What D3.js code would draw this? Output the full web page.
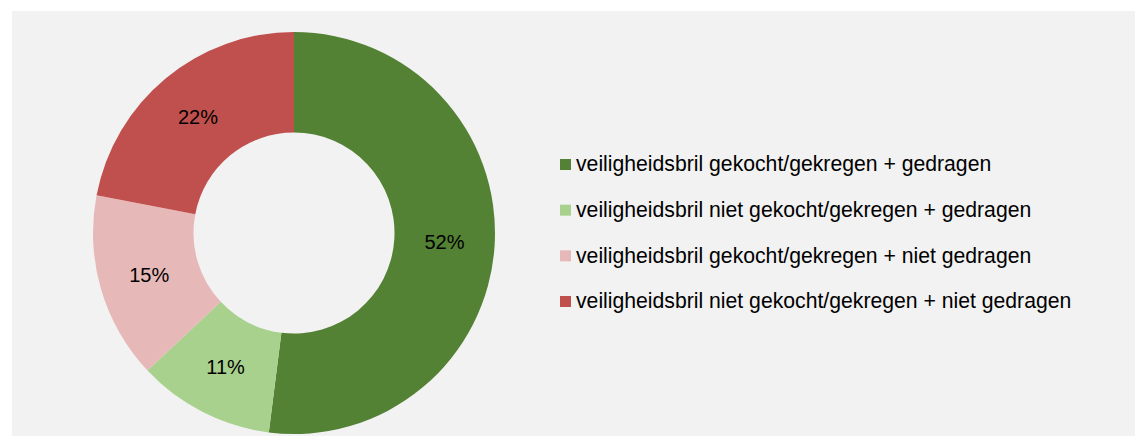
<!DOCTYPE html>
<html>
<head>
<meta charset="utf-8">
<script src="https://cdn.jsdelivr.net/npm/d3@7"></script>
<style>
  body { margin: 0; background: #ffffff; }
  svg { display: block; font-family: "Liberation Sans", Arial, sans-serif; }
</style>
</head>
<body>
<div id="chart"></div>
<script>
// chart data
const categories = [
    "veiligheidsbril gekocht/gekregen + gedragen",
    "veiligheidsbril niet gekocht/gekregen + gedragen",
    "veiligheidsbril gekocht/gekregen + niet gedragen",
    "veiligheidsbril niet gekocht/gekregen + niet gedragen"
];
const values = [52, 11, 15, 22];
const colors = ["#548235", "#a9d18e", "#e6b9b8", "#c0504d"];

const width = 1141, height = 436;

const svg = d3.select("#chart")
    .append("svg")
    .attr("width", width)
    .attr("height", height);

// grey plot panel
svg.append("rect")
    .attr("x", 12)
    .attr("y", 11)
    .attr("width", 1123)
    .attr("height", height - 11)
    .attr("fill", "#f2f2f2");

const data = categories.map((c, i) => ({ category: c, value: values[i] }));

const colorScale = d3.scaleOrdinal()
    .domain(categories)
    .range(colors);

const pie = d3.pie()
    .sort(null)
    .value(d => d.value);

const outerR = 201, innerR = 100.5;
const arc = d3.arc().innerRadius(innerR).outerRadius(outerR);

const g = svg.append("g")
    .attr("transform", "translate(294,233)");

const arcs = pie(data);

// donut slices
g.selectAll(".slice")
    .data(arcs)
    .enter().append("path")
    .attr("class", "slice")
    .attr("d", arc)
    .attr("fill", d => colorScale(d.data.category));

// percentage labels
g.selectAll(".pct")
    .data(arcs)
    .enter().append("text")
    .attr("class", "pct")
    .attr("transform", d => `translate(${arc.centroid(d)})`)
    .attr("text-anchor", "middle")
    .attr("dy", "0.35em")
    .style("font-size", "20px")
    .style("fill", "#000")
    .text(d => d.data.value + "%");

// legend
const legendY = d3.scalePoint()
    .domain(categories)
    .range([164.5, 301.5]);

const legend = svg.selectAll(".legend")
    .data(categories)
    .enter().append("g")
    .attr("class", "legend")
    .attr("transform", d => `translate(560,${legendY(d)})`);

legend.append("rect")
    .attr("x", 0)
    .attr("y", -5.5)
    .attr("width", 11)
    .attr("height", 11)
    .attr("fill", d => colorScale(d));

legend.append("text")
    .attr("x", 16)
    .attr("dy", "0.32em")
    .style("font-size", "21.2px")
    .style("fill", "#000")
    .text(d => d);
</script>
</body>
</html>
